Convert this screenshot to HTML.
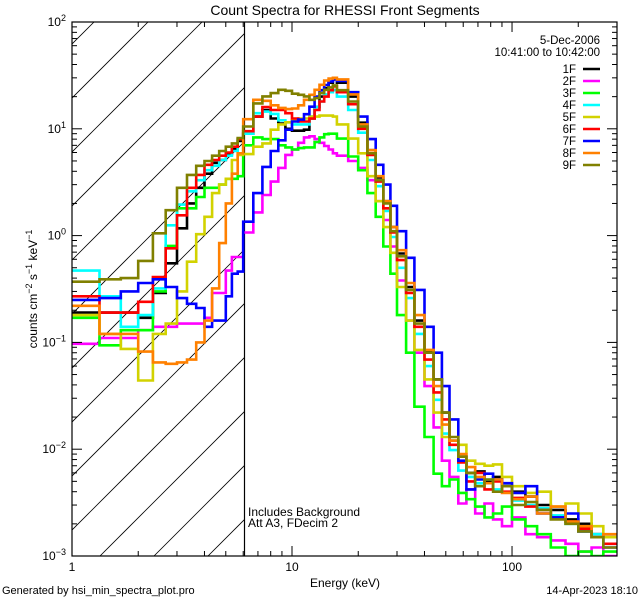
<!DOCTYPE html>
<html><head><meta charset="utf-8"><style>
html,body{margin:0;padding:0;background:#fff;}
svg{display:block;font-family:"Liberation Sans",sans-serif;}
</style></head><body>
<svg id="chart" width="640" height="600" viewBox="0 0 640 600" xmlns="http://www.w3.org/2000/svg">
<rect x="0" y="0" width="640" height="600" fill="#fff"/>
<text x="345" y="15" font-size="14" text-anchor="middle">Count Spectra for RHESSI Front Segments</text>
<defs><clipPath id="plotclip"><rect x="72" y="22" width="545" height="534"/></clipPath>
<clipPath id="hatchclip"><rect x="72" y="22" width="172" height="534"/></clipPath></defs>
<g id="hatch" clip-path="url(#hatchclip)"></g>
<line x1="244.5" y1="22" x2="244.5" y2="556" stroke="#000" stroke-width="1.2"/>
<g id="series" clip-path="url(#plotclip)"></g>
<g id="axes"></g>
<text x="248" y="516" font-size="12">Includes Background</text>
<text x="248" y="527" font-size="12">Att A3, FDecim  2</text>
<text x="600" y="44" font-size="11.5" text-anchor="end">5-Dec-2006</text>
<text x="600" y="56" font-size="11.5" text-anchor="end">10:41:00 to 10:42:00</text>
<g id="legend"></g>
<text x="345" y="587" font-size="12" text-anchor="middle">Energy (keV)</text>
<text transform="translate(37,289) rotate(-90)" font-size="12" text-anchor="middle">counts cm<tspan dy="-5" font-size="9">−2</tspan><tspan dy="5"> s</tspan><tspan dy="-5" font-size="9">−1</tspan><tspan dy="5"> keV</tspan><tspan dy="-5" font-size="9">−1</tspan></text>
<text x="2" y="594" font-size="11">Generated by hsi_min_spectra_plot.pro</text>
<text x="638" y="594" font-size="11" text-anchor="end">14-Apr-2023 18:10</text>
</svg>
<script>
const edges=[1,1.333,1.667,2,2.333,2.667,3,3.333,3.667,4,4.333,4.667,5,5.333,5.667,6,
6.667,7.333,8,8.667,9.333,10,10.667,11.333,12,12.667,13.333,14,14.667,15.333,16,
18,20,22,24,26,28,30,33,36,40,44,48,52,57,62,68,75,82,90,100,115,130,150,175,200,230,260,300];
const seriesNames=["1F","2F","3F","4F","5F","6F","7F","8F","9F"];
const s1=[0.19,0.19,0.19,0.17,0.29,0.55,1.17,2.0,2.8,3.8,4.8,5.1,5.8,6.5,7.7,
9,13,15,12.5,11.2,10,9.6,9.6,9.8,12.5,16,20,24,27,29,
27,20,11.4,6.3,3.5,2.1,1.2,0.68,0.33,0.16,0.082,0.045,0.022,0.012,0.0085,0.0060,0.0062,0.0050,0.0055,0.0045,0.0040,0.0036,0.0030,0.0027,0.0022,0.0020,0.0016,0.0015];
const s2=[0.097,0.11,0.11,0.13,0.14,0.14,0.15,0.15,0.15,0.17,0.29,0.29,0.47,0.63,0.63,
1.07,1.65,2.4,3.2,4.3,5.7,6.4,7.4,8.3,8.5,8.0,7.4,6.9,6.4,5.9,
5.6,5.0,4.3,3.3,2.1,1.4,0.79,0.38,0.16,0.080,0.039,0.016,0.0078,0.0055,0.0031,0.0042,0.0025,0.0031,0.0022,0.0019,0.0023,0.0016,0.0015,0.0014,0.0013,0.0011,0.0012,0.0010];
const s3=[0.17,0.094,0.13,0.13,0.30,0.80,1.80,1.80,2.3,2.8,2.8,3.0,3.4,3.4,3.6,
7.0,8.3,8.0,8.0,7.0,6.7,6.4,6.6,6.7,6.7,7.5,8.3,8.9,9.0,9.0,
8.1,5.5,4.1,2.5,1.5,0.79,0.44,0.18,0.080,0.025,0.013,0.0059,0.0045,0.0052,0.0039,0.0034,0.0029,0.0023,0.0025,0.0029,0.0022,0.0019,0.0016,0.0012,0.0010,0.0011,0.0010,0.0011];
const s4=[0.47,0.27,0.14,0.18,0.32,1.25,1.95,2.6,3.3,4.1,4.5,5.1,5.6,6.2,8.0,
9,14,14.5,13.8,12,11.5,11,11,11,13,16,18,21,22,23,
20,15,9.2,5.1,2.9,1.7,0.97,0.50,0.26,0.12,0.060,0.029,0.014,0.0098,0.0063,0.0055,0.0048,0.0052,0.0042,0.0045,0.0033,0.0030,0.0028,0.0024,0.0020,0.0017,0.0016,0.0013];
const s5=[0.18,0.12,0.087,0.044,0.12,0.15,0.30,0.57,1.03,1.5,2.5,3.0,3.4,5.1,5.7,
5.8,6.8,7.3,9.8,11,11.5,12,12.5,12.5,13,13,13.3,13.3,13.3,13,
11,8.1,5.9,3.6,2.1,1.2,0.69,0.33,0.16,0.085,0.045,0.022,0.013,0.012,0.011,0.0078,0.0073,0.0070,0.0072,0.0055,0.0045,0.0039,0.0040,0.0029,0.0031,0.0025,0.0019,0.0015];
const s6=[0.27,0.19,0.19,0.24,0.41,0.76,1.55,2.8,3.7,4.6,5.1,5.6,6.0,6.8,8.0,
9.5,13,16,15,15,14,12.5,11.7,11.7,12.5,15,18,20,23,25,
22,17,10,5.7,3.2,1.8,1.07,0.59,0.29,0.14,0.069,0.034,0.019,0.011,0.0075,0.0050,0.0060,0.0042,0.0050,0.0040,0.0035,0.0029,0.0027,0.0023,0.0021,0.0018,0.0015,0.0013];
const s7=[0.25,0.26,0.30,0.36,0.39,0.33,0.26,0.23,0.21,0.14,0.16,0.16,0.27,0.44,0.46,
1.35,2.5,4.4,6.2,7.8,9.8,11.7,12.2,13.7,16.1,20,23,25.7,27.7,29,
28,22,13,8.0,4.6,3.0,1.9,1.1,0.62,0.31,0.14,0.080,0.039,0.019,0.0078,0.0042,0.0052,0.0059,0.0052,0.0048,0.0039,0.0045,0.0025,0.0023,0.0025,0.0017,0.0015,0.0012];
const s8=[0.22,0.12,0.12,0.082,0.065,0.063,0.065,0.069,0.10,0.16,0.32,0.85,2.0,3.8,5.9,
12.3,18.7,18.3,16.6,15.7,15.3,15.5,16.6,18.7,20.8,23.2,25.8,28.3,29.5,30,
29,21,11,6.3,3.6,2.1,1.2,0.73,0.36,0.18,0.085,0.039,0.017,0.012,0.0090,0.0068,0.0055,0.0048,0.0052,0.0039,0.0034,0.0036,0.0025,0.0029,0.0021,0.0019,0.0015,0.0016];
const s9=[0.37,0.39,0.40,0.58,1.05,1.73,2.8,3.7,4.5,5.0,5.6,6.2,6.8,7.3,8.2,
10.5,17.3,20.1,21.6,23.2,22.7,21.3,20.8,20.1,18.7,19.4,21.6,23.2,24.4,25.5,
23,18,10.5,5.9,3.3,2.0,1.1,0.64,0.31,0.15,0.080,0.045,0.022,0.013,0.0085,0.0060,0.0045,0.0052,0.0040,0.0045,0.0030,0.0032,0.0027,0.0022,0.0020,0.0017,0.0015,0.0012];
const xTickLabels=["1","10","100"];
const yTickExps=["2","1","0","−1","−2","−3"];

const NS="http://www.w3.org/2000/svg";
const X0=72,X1=617,Y0=22,Y1=556,XMIN=1,XMAX=300,YMIN=1e-3,YMAX=100;
function xs(e){return X0+(Math.log10(e)-Math.log10(XMIN))/(Math.log10(XMAX)-Math.log10(XMIN))*(X1-X0);}
function ys(v){v=Math.max(v,1e-4);return Y0+(Math.log10(YMAX)-Math.log10(v))/(Math.log10(YMAX)-Math.log10(YMIN))*(Y1-Y0);}
function mk(tag,attrs,parent){const el=document.createElementNS(NS,tag);for(const k in attrs)el.setAttribute(k,attrs[k]);parent.appendChild(el);return el;}

const hatch=document.getElementById('hatch');
for(let c=-16-54*12;c<300;c+=54){
  const ln=mk('line',{x1:72+c,y1:600,x2:72+c+600,y2:0,stroke:'#000','stroke-width':0.8},hatch);
  
  
}

const colors=["#000000","#ff00ff","#00ff00","#00ffff","#d2d200","#ff0000","#0000ff","#ff8000","#808000"];
const allSeries=[s1,s2,s3,s4,s5,s6,s7,s8,s9];
const sg=document.getElementById('series');
allSeries.forEach((vals,k)=>{
  let d="";
  for(let i=0;i<vals.length;i++){
    const xa=xs(edges[i]).toFixed(1),xb=xs(edges[i+1]).toFixed(1),y=ys(vals[i]).toFixed(1);
    d+=(i===0?"M":"L")+xa+","+y+"L"+xb+","+y;
  }
  const p=mk('path',{d:d,fill:'none',stroke:colors[k],'stroke-width':2.6,'stroke-linejoin':'miter'},sg);
  
  
});

const ax=document.getElementById('axes');
const frame=mk('rect',{x:X0,y:Y0,width:X1-X0,height:Y1-Y0,fill:'none',stroke:'#000','stroke-width':1.2},ax);


for(let dec=0;dec<3;dec++){
  for(let m=1;m<=9;m++){
    const e=Math.pow(10,dec)*m; if(e>XMAX)break;
    const x=xs(e),len=m===1?10:5;
    const t1=mk('line',{x1:x,y1:Y1,x2:x,y2:Y1-len,stroke:'#000','stroke-width':1},ax);
    
    
    const t2=mk('line',{x1:x,y1:Y0,x2:x,y2:Y0+len,stroke:'#000','stroke-width':1},ax);
    
    
  }
  const lb=mk('text',{x:xs(Math.pow(10,dec)),y:571,'font-size':12,'text-anchor':'middle'},ax);
  lb.textContent=xTickLabels[dec];
  
  
}
for(let p=-3;p<=2;p++){
  for(let m=1;m<=9;m++){
    const v=Math.pow(10,p)*m; if(v>YMAX)break;
    const y=ys(v),len=m===1?10:5;
    const t1=mk('line',{x1:X0,y1:y,x2:X0+len,y2:y,stroke:'#000','stroke-width':1},ax);
    
    
    const t2=mk('line',{x1:X1,y1:y,x2:X1-len,y2:y,stroke:'#000','stroke-width':1},ax);
    
    
  }
  const lb=mk('text',{x:66,y:ys(Math.pow(10,p))+4,'font-size':12,'text-anchor':'end'},ax);
  
  
  const t=document.createElementNS(NS,'tspan');t.textContent="10";lb.appendChild(t);
  const sup=document.createElementNS(NS,'tspan');sup.setAttribute('dy','-5');sup.setAttribute('font-size','9');
  sup.textContent=yTickExps[2-p];lb.appendChild(sup);
}

const lg=document.getElementById('legend');
seriesNames.forEach((n,k)=>{
  const y=69+k*12;
  const t=mk('text',{x:576,y:y+4,'font-size':11.5,'text-anchor':'end'},lg);
  t.textContent=n;
  
  
  const l=mk('line',{x1:583,y1:y,x2:600,y2:y,stroke:colors[k],'stroke-width':2.6},lg);
  
  
});
</script>
</body></html>
